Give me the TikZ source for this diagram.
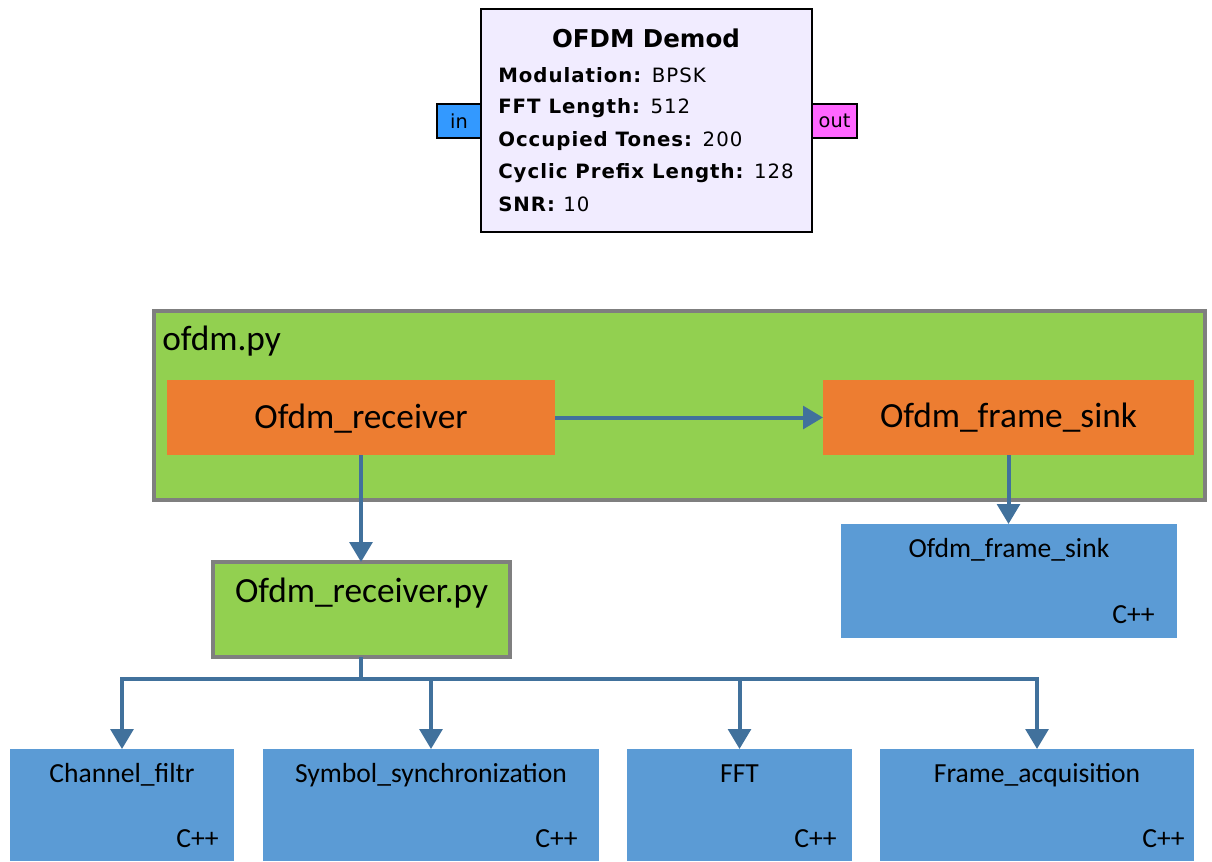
\documentclass[tikz,border=0pt]{standalone}
\usepackage{fontspec}
\usetikzlibrary{arrows.meta,fit}
\newfontfamily\dejavu{DejaVu Sans}
\newfontfamily\dejavusp[LetterSpace=5.0]{DejaVu Sans}
\newfontfamily\calib{Carlito}
\definecolor{blockbg}{HTML}{F1ECFF}
\definecolor{portin}{HTML}{3399FF}
\definecolor{portout}{HTML}{FF66FF}
\definecolor{pygreen}{HTML}{92D050}
\definecolor{pyborder}{HTML}{7F7F7F}
\definecolor{funcorange}{HTML}{ED7D31}
\definecolor{cppblue}{HTML}{5B9BD5}
\definecolor{link}{HTML}{41719C}

\begin{document}
\begin{tikzpicture}[x=0.75pt,y=-0.75pt,
  frame/.style={rectangle, inner sep=0pt, outer sep=0pt},
  grcblock/.style={frame, draw=black, line width=1.2pt, fill=blockbg},
  port/.style={frame, draw=black, line width=1.2pt},
  pybox/.style={frame, draw=pyborder, line width=3pt, fill=pygreen},
  funcbox/.style={frame, fill=funcorange},
  cppbox/.style={frame, fill=cppblue},
  conn/.style={draw=link, line width=3pt},
  arrow/.style={conn, -{Triangle[width=17pt,length=15pt]}},
  bigtxt/.style={font=\calib\fontsize{26.5}{30}\selectfont, inner sep=0pt, anchor=base},
  smalltxt/.style={font=\calib\fontsize{20.7}{24}\selectfont, inner sep=0pt, anchor=base},
  cpptxt/.style={smalltxt, anchor=base east},
  param/.style={font=\dejavusp\fontsize{14.8}{17}\selectfont, inner sep=0pt, anchor=base west},
  porttxt/.style={font=\dejavu\fontsize{14.5}{16}\selectfont, inner sep=0pt},
]
\useasboundingbox (0,0) rectangle (1212,861);

% GNU Radio block with its ports
\node[port, fill=portin, fit={(437,104) (481,138)}] (pin) {};
\node[port, fill=portout, fit={(812,104) (857,138)}] (pout) {};
\node[grcblock, fit={(481,9) (812,232)}] (demod) {};
\node[porttxt] (pintxt) at (pin.center) {in};
\node[porttxt] (pouttxt) at (pout.center) {out};
\node[font=\dejavu\bfseries\fontsize{18.4}{22}\selectfont, inner sep=0pt, anchor=base] (title) at (646,47) {OFDM Demod};
\node[param] (p1) at (498,82) {\textbf{Modulation:} BPSK};
\node[param] (p2) at (498,113.5) {\textbf{FFT Length:} 512};
\node[param] (p3) at (498,146) {\textbf{Occupied Tones:} 200};
\node[param] (p4) at (498,178) {\textbf{Cyclic Prefix Length:} 128};
\node[param] (p5) at (498,211) {\textbf{SNR:} 10};

% Python hierarchy
\node[pybox, fit={(154,311) (1205,500)}] (ofdmpy) {};
\node[bigtxt, anchor=base west] (ofdmpytxt) at (162,350) {ofdm.py};
\node[funcbox, fit={(167,380) (555,455)}] (recv) {};
\node[bigtxt] (recvtxt) at (361,428) {Ofdm\_receiver};
\node[funcbox, fit={(823,380) (1194,455)}] (sink) {};
\node[bigtxt] (sinktxt) at (1008.5,427) {Ofdm\_frame\_sink};
\node[pybox, fit={(213,562) (510,657)}] (rpy) {};
\node[bigtxt] (rpytxt) at (361.5,602) {Ofdm\_receiver.py};

% C++ blocks
\node[cppbox, fit={(841,524) (1177,638)}] (csink) {};
\node[smalltxt] (csinktxt) at (1009,557) {Ofdm\_frame\_sink};
\node[cpptxt] (csinkcpp) at (1155,623) {C++};

\node[cppbox, fit={(10,749) (234,861)}] (cf) {};
\node[smalltxt] (cftxt) at (122,782) {Channel\_filtr};
\node[cpptxt] (cfcpp) at (219,847) {C++};

\node[cppbox, fit={(263,749) (599,861)}] (ss) {};
\node[smalltxt] (sstxt) at (431,782) {Symbol\_synchronization};
\node[cpptxt] (sscpp) at (578,847) {C++};

\node[cppbox, fit={(627,749) (852,861)}] (fft) {};
\node[smalltxt] (ffttxt) at (739.5,782) {FFT};
\node[cpptxt] (fftcpp) at (837,847) {C++};

\node[cppbox, fit={(880,749) (1194,861)}] (fa) {};
\node[smalltxt] (fatxt) at (1037,782) {Frame\_acquisition};
\node[cpptxt] (facpp) at (1185,847) {C++};

% Connectors
\draw[arrow] (recv.east) -- (sink.west);
\draw[arrow] (recv.south) -- (recv.south |- rpy.north);
\draw[arrow] (sink.south) -- (csink.north -| sink.south);
\coordinate (bus) at (361,679);
\draw[conn] (rpy.south -| bus) -- (bus);
\draw[arrow] (bus) -| (cf.north);
\draw[arrow] (bus) -| (ss.north);
\draw[arrow] (bus) -| (fft.north);
\draw[arrow] (bus) -| (fa.north);
\end{tikzpicture}
\end{document}
